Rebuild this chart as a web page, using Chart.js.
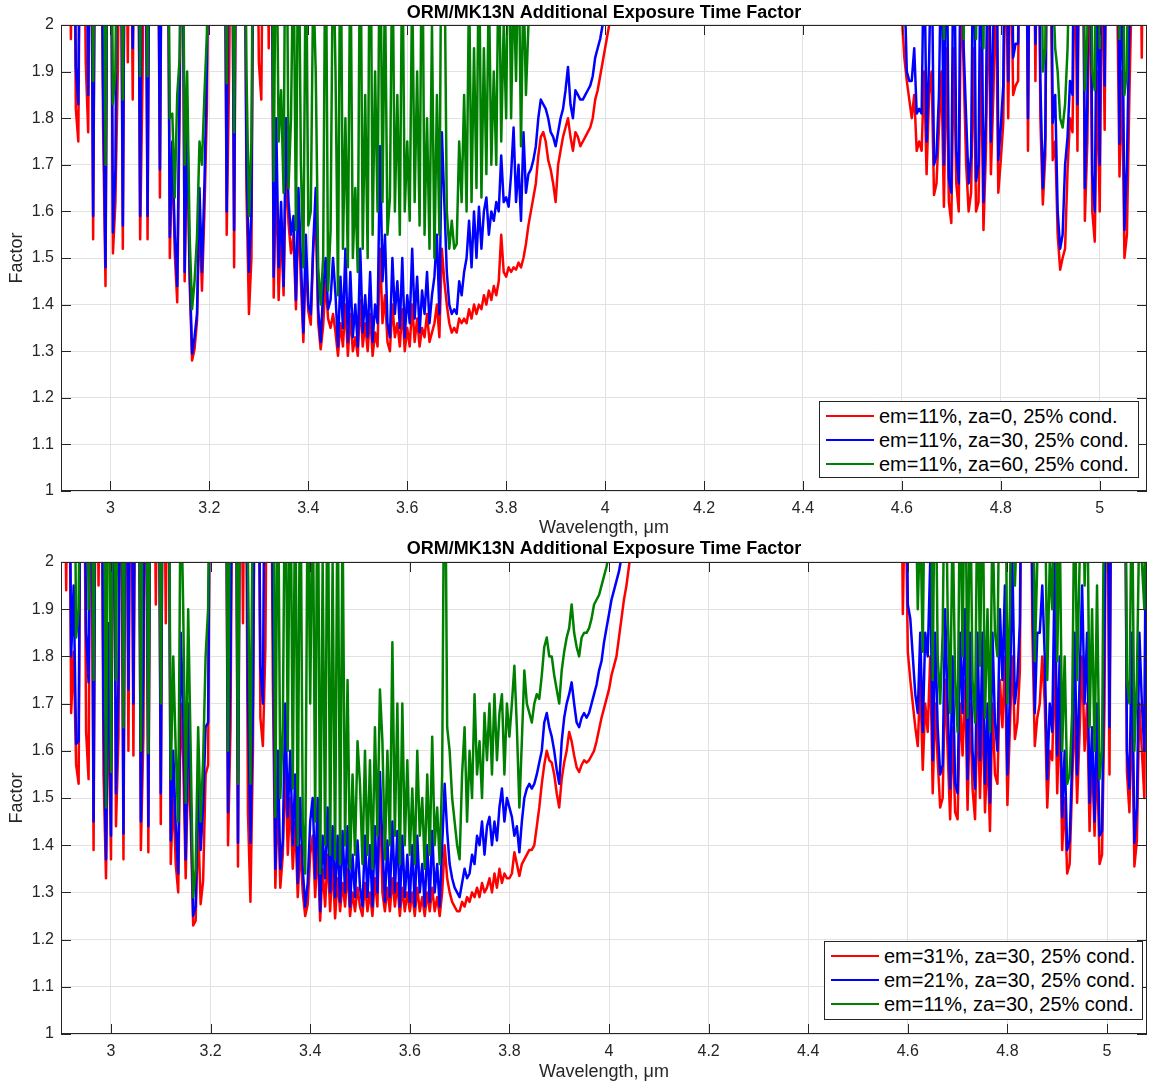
<!DOCTYPE html>
<html><head><meta charset="utf-8">
<script src="https://cdn.jsdelivr.net/npm/chart.js@4"></script>
<style>
html,body{margin:0;padding:0;background:#fff;}
body{width:1151px;height:1086px;position:relative;overflow:hidden;font-family:"Liberation Sans",Arial,Helvetica,sans-serif;}
.panel{position:absolute;left:0;width:1151px;}
.legend{position:absolute;background:#fff;border:1px solid #262626;box-sizing:border-box;font-size:20px;color:#000;}
.legend .row{position:absolute;left:0;right:0;height:24px;line-height:24px;white-space:nowrap;}
.legend .sw{position:absolute;left:6px;top:11px;height:2px;width:48px;}
.legend .tx{position:absolute;left:59px;top:0;}
</style></head><body>
<div class="panel" style="top:0;height:540px"><canvas id="c1" width="1151" height="540"></canvas></div>
<div class="panel" style="top:538px;height:548px"><canvas id="c2" width="1151" height="548"></canvas></div>
<div id="leg1" class="legend" style="left:819px;top:401px;width:320px;height:77px"></div>
<div id="leg2" class="legend" style="left:824px;top:941px;width:319px;height:79px"></div>
<script>
const chartTitle = 'ORM/MK13N Additional Exposure Time Factor';
const xTitle = 'Wavelength, \u03bcm';
const yTitle = 'Factor';
const xTicks = [3,3.2,3.4,3.6,3.8,4,4.2,4.4,4.6,4.8,5];
const xTickLabels = ['3','3.2','3.4','3.6','3.8','4','4.2','4.4','4.6','4.8','5'];
const yTicks = [1,1.1,1.2,1.3,1.4,1.5,1.6,1.7,1.8,1.9,2];
const yTickLabels = ['1','1.1','1.2','1.3','1.4','1.5','1.6','1.7','1.8','1.9','2'];
const seriesColors = ['#ff0000','#0000ff','#008000'];
const topLabels = ['em=11%, za=0, 25% cond.','em=11%, za=30, 25% cond.','em=11%, za=60, 25% cond.'];
const botLabels = ['em=31%, za=30, 25% cond.','em=21%, za=30, 25% cond.','em=11%, za=30, 25% cond.'];

// wavelength samples (micrometres)
const wavelength = [
2.905,2.91,2.915,2.92,2.925,2.93,2.935,2.94,2.945,2.95,
2.955,2.96,2.965,2.97,2.975,2.98,2.985,2.99,2.995,3.0,
3.005,3.01,3.015,3.02,3.025,3.03,3.035,3.04,3.045,3.05,
3.055,3.06,3.065,3.07,3.075,3.08,3.085,3.09,3.095,3.1,
3.105,3.11,3.115,3.12,3.125,3.13,3.135,3.14,3.145,3.15,
3.155,3.16,3.165,3.17,3.175,3.18,3.185,3.19,3.195,3.2,
3.205,3.21,3.215,3.22,3.225,3.23,3.235,3.24,3.245,3.25,
3.255,3.26,3.265,3.27,3.275,3.28,3.285,3.29,3.295,3.3,
3.305,3.31,3.315,3.32,3.325,3.33,3.335,3.34,3.345,3.35,
3.355,3.36,3.365,3.37,3.375,3.38,3.385,3.39,3.395,3.4,
3.405,3.41,3.415,3.42,3.425,3.43,3.435,3.44,3.445,3.45,
3.455,3.46,3.465,3.47,3.475,3.48,3.485,3.49,3.495,3.5,
3.505,3.51,3.515,3.52,3.525,3.53,3.535,3.54,3.545,3.55,
3.555,3.56,3.565,3.57,3.575,3.58,3.585,3.59,3.595,3.6,
3.605,3.61,3.615,3.62,3.625,3.63,3.635,3.64,3.645,3.65,
3.655,3.66,3.665,3.67,3.675,3.68,3.685,3.69,3.695,3.7,
3.705,3.71,3.715,3.72,3.725,3.73,3.735,3.74,3.745,3.75,
3.755,3.76,3.765,3.77,3.775,3.78,3.785,3.79,3.795,3.8,
3.805,3.81,3.815,3.82,3.825,3.83,3.835,3.84,3.845,3.85,
3.855,3.86,3.865,3.87,3.875,3.88,3.885,3.89,3.895,3.9,
3.905,3.91,3.915,3.92,3.925,3.93,3.935,3.94,3.945,3.95,
3.955,3.96,3.965,3.97,3.975,3.98,3.985,3.99,3.995,4.0,
4.005,4.01,4.015,4.02,4.025,4.03,4.035,4.04,4.045,4.05,
4.585,4.59,4.595,4.6,4.605,4.61,4.615,4.62,4.625,4.63,
4.635,4.64,4.645,4.65,4.655,4.66,4.665,4.67,4.675,4.68,
4.685,4.69,4.695,4.7,4.705,4.71,4.715,4.72,4.725,4.73,
4.735,4.74,4.745,4.75,4.755,4.76,4.765,4.77,4.775,4.78,
4.785,4.79,4.795,4.8,4.805,4.81,4.815,4.82,4.825,4.83,
4.835,4.84,4.845,4.85,4.855,4.86,4.865,4.87,4.875,4.88,
4.885,4.89,4.895,4.9,4.905,4.91,4.915,4.92,4.925,4.93,
4.935,4.94,4.945,4.95,4.955,4.96,4.965,4.97,4.975,4.98,
4.985,4.99,4.995,5.0,5.005,5.01,5.015,5.02,5.025,5.03,
5.035,5.04,5.045,5.05,5.055,5.06,5.065,5.07,5.075,5.08,
5.085,5.09,5.095];

// ---- top panel: em=11%, za=0 / 30 / 60 ----
const topRed = [
2.5,2.5,2.5,1.97,2.5,1.82,1.75,2.5,2.5,1.92,
1.77,2.5,1.54,2.5,2.5,2.5,1.79,1.44,2.5,2.5,
1.51,1.62,1.91,2.5,1.52,2.5,1.92,2.5,1.84,2.5,
2.5,1.54,1.9,2.5,1.54,2.5,2.5,2.5,2.5,1.63,
2.5,2.5,2.5,1.5,1.73,1.51,1.405,1.83,2.5,1.45,
1.78,1.45,1.28,1.305,1.365,1.6,1.43,1.6,1.82,2.5,
2.5,2.5,2.5,2.5,2.5,2.5,1.55,1.9,2.5,1.48,
2.5,2.5,2.5,2.5,1.64,1.38,1.5,2.5,2.5,1.92,
1.84,2.5,2.5,1.95,2.5,1.415,1.7,1.41,1.575,1.42,
1.7,1.575,1.51,1.55,1.39,1.6,1.45,1.32,1.5,1.386,
1.357,1.52,1.6,1.36,1.304,1.354,1.45,1.37,1.35,1.38,
1.34,1.29,1.36,1.31,1.40,1.29,1.38,1.30,1.33,1.29,
1.41,1.31,1.36,1.30,1.38,1.29,1.34,1.31,1.52,1.36,
1.42,1.32,1.30,1.40,1.33,1.36,1.31,1.39,1.30,1.35,
1.31,1.40,1.32,1.37,1.31,1.35,1.33,1.38,1.32,1.34,
1.36,1.40,1.33,1.52,1.45,1.40,1.36,1.34,1.35,1.34,
1.37,1.36,1.37,1.36,1.39,1.37,1.40,1.38,1.40,1.39,
1.42,1.40,1.43,1.41,1.44,1.42,1.45,1.55,1.47,1.46,
1.48,1.47,1.48,1.475,1.49,1.48,1.50,1.53,1.57,1.60,
1.63,1.66,1.72,1.76,1.77,1.75,1.71,1.69,1.66,1.62,
1.70,1.73,1.76,1.78,1.80,1.76,1.73,1.77,1.76,1.74,
1.75,1.76,1.77,1.78,1.80,1.84,1.86,1.89,1.92,1.95,
1.98,2.01,2.05,2.1,2.15,2.2,2.3,2.4,2.5,2.5,
2.5,2.5,2.5,2.02,1.93,1.88,1.84,1.80,1.85,1.73,
1.75,1.73,1.9,1.68,1.85,1.9,1.635,1.66,1.78,1.9,
1.61,1.95,1.62,1.575,1.95,1.66,1.60,2.1,1.9,1.7,
1.60,1.64,1.95,1.60,1.62,1.95,1.56,1.73,2.1,1.68,
1.85,2.1,1.64,1.71,1.79,2.2,1.80,2.2,1.85,1.87,
1.88,2.5,2.5,2.5,1.73,2.5,2.5,1.88,2.5,1.8,
1.615,1.72,2.5,2.2,1.71,1.75,1.55,1.475,1.50,1.52,
1.69,1.80,1.77,2.2,1.73,2.5,2.5,1.58,1.75,2.2,
1.6,1.535,1.9,1.60,2.2,1.775,2.5,2.5,2.5,2.5,
2.1,1.675,1.9,1.50,1.55,1.85,2.1,2.5,2.5,2.5,
1.93,2.5,2.5];

const topBlue = [
2.5,2.5,2.5,2.5,2.5,1.91,1.83,2.5,2.5,2.5,
1.85,2.5,1.59,2.5,2.5,2.5,1.87,1.48,2.5,2.5,
1.555,1.69,2.5,2.5,1.57,2.5,2.5,2.5,1.95,2.5,
2.5,1.59,2.5,2.5,1.59,2.5,2.5,2.5,2.5,1.69,
2.5,2.5,2.5,1.545,1.75,1.55,1.44,1.9,2.5,1.47,
1.82,1.48,1.295,1.33,1.38,1.65,1.47,1.66,1.91,2.5,
2.5,2.5,2.5,2.5,2.5,2.5,1.6,2.5,2.5,1.56,
2.5,2.5,2.5,2.5,1.71,1.47,1.6,2.5,2.5,2.5,
2.5,2.5,2.5,2.5,2.5,1.46,1.8,1.48,1.62,1.44,
1.8,1.62,1.55,1.59,1.41,1.65,1.5,1.34,1.55,1.4,
1.38,1.53,1.65,1.39,1.32,1.43,1.5,1.39,1.41,1.50,
1.42,1.31,1.46,1.35,1.52,1.32,1.47,1.33,1.40,1.31,
1.52,1.34,1.42,1.33,1.47,1.32,1.40,1.36,1.74,1.45,
1.55,1.36,1.33,1.50,1.38,1.45,1.35,1.50,1.33,1.42,
1.36,1.52,1.37,1.46,1.34,1.43,1.38,1.47,1.36,1.42,
1.46,1.55,1.38,1.77,1.62,1.47,1.40,1.38,1.39,1.38,
1.45,1.42,1.47,1.50,1.58,1.48,1.60,1.50,1.61,1.52,
1.60,1.63,1.55,1.60,1.58,1.62,1.60,1.72,1.62,1.63,
1.61,1.68,1.78,1.62,1.70,1.58,1.77,1.64,1.68,1.69,
1.71,1.74,1.80,1.84,1.83,1.82,1.80,1.77,1.76,1.74,
1.77,1.80,1.82,1.86,1.91,1.83,1.80,1.86,1.85,1.84,
1.84,1.85,1.86,1.87,1.89,1.93,1.95,1.97,2.0,2.04,
2.08,2.12,2.18,2.25,2.35,2.45,2.5,2.5,2.5,2.5,
2.5,2.5,2.5,2.5,2.1,1.90,1.88,1.88,1.95,1.81,
1.82,1.81,2.2,1.75,1.92,2.2,1.70,1.72,1.85,2.2,
1.70,2.3,1.67,1.64,2.3,1.73,1.66,2.4,1.95,1.8,
1.66,1.72,2.3,1.665,1.70,2.3,1.62,1.81,2.4,1.75,
2.0,2.5,1.71,1.78,1.87,2.5,1.88,2.5,1.93,1.96,
1.96,2.5,2.5,2.5,1.80,2.5,2.5,1.96,2.5,1.88,
1.65,1.76,2.5,2.5,1.79,1.85,1.60,1.52,1.55,1.70,
1.76,1.88,1.85,2.5,1.83,2.5,2.5,1.65,1.84,2.5,
1.68,1.60,2.2,1.70,2.5,1.87,2.5,2.5,2.5,2.5,
2.5,1.745,2.2,1.56,1.70,2.0,2.5,2.5,2.5,2.5,
2.05,2.5,2.5];

const topGreen = [
2.5,2.5,2.5,2.5,2.5,2.5,2.5,2.5,2.5,2.5,
2.5,2.5,1.88,2.5,2.5,2.5,2.5,1.70,2.5,2.5,
1.83,1.9,2.5,2.5,1.84,2.5,2.5,2.5,2.5,2.5,
2.5,1.89,2.5,2.5,1.89,2.5,2.5,2.5,2.5,2.5,
2.5,2.5,2.5,1.8,1.81,1.63,1.85,1.93,2.5,1.70,
1.9,1.55,1.39,1.45,1.545,1.75,1.70,1.85,1.98,2.5,
2.5,2.5,2.5,2.5,2.5,2.5,1.875,2.5,2.5,1.77,
2.5,2.5,2.5,2.5,1.9,1.59,1.75,2.5,2.5,2.5,
2.5,2.5,2.5,2.5,2.5,1.665,2.3,1.75,1.86,1.64,
2.5,1.65,1.8,2.2,1.56,2.3,1.7,1.48,2.2,1.57,
1.6,2.1,1.9,1.48,1.4,1.5,2.3,1.43,1.56,2.2,
1.9,1.42,2.3,1.52,1.80,1.48,2.2,1.50,1.65,1.47,
2.3,1.52,1.85,1.50,2.4,1.55,1.90,1.6,2.3,1.62,
2.1,1.55,1.63,2.2,1.60,1.85,1.55,2.2,1.60,1.75,
1.58,2.1,1.62,1.90,1.57,2.3,1.55,1.80,1.52,2.0,
1.50,1.85,1.55,2.4,2.2,1.60,1.52,1.58,1.52,1.53,
1.75,1.62,1.85,1.60,2.1,1.62,1.95,1.65,2.2,1.63,
1.95,1.68,2.1,1.70,1.90,1.70,2.2,1.75,2.0,1.80,
2.3,1.80,2.1,1.88,2.2,1.74,2.1,1.85,2.0,2.3,
2.5,2.05,2.5,2.5,2.5,2.5,2.5,2.5,2.5,2.5,
2.5,2.5,2.5,2.5,2.5,2.5,2.5,2.5,2.5,2.5,
2.5,2.5,2.5,2.5,2.5,2.5,2.5,2.5,2.5,2.5,
2.5,2.5,2.5,2.5,2.5,2.5,2.5,2.5,2.5,2.5,
2.5,2.5,2.5,2.5,2.5,2.5,2.5,2.5,2.5,2.5,
2.5,2.5,2.5,2.5,2.5,2.5,2.5,2.5,2.5,2.5,
1.97,2.5,2.5,2.5,2.5,2.5,2.5,2.5,1.97,2.5,
2.5,2.5,2.5,1.97,2.5,2.5,1.95,2.5,2.5,2.5,
2.5,2.5,2.5,2.5,2.5,2.5,2.5,2.5,2.5,2.5,
2.5,2.5,2.5,2.5,2.5,2.5,2.5,2.5,2.5,2.5,
1.9,1.95,2.5,2.5,2.1,1.95,1.90,1.80,1.78,1.83,
1.95,2.2,2.5,2.5,2.5,2.5,2.5,1.86,1.98,2.5,
1.9,1.86,2.5,1.95,2.5,2.5,2.5,2.5,2.5,2.5,
2.5,1.97,2.5,1.85,1.9,2.5,2.5,2.5,2.5,2.5,
2.5,2.5,2.5];

// ---- bottom panel: em=31% / 21% / 11%, za=30 ----
const botRed = [
2.5,1.94,2.5,1.68,1.81,1.57,1.53,2.5,2.5,1.64,
1.54,2.5,1.39,2.5,1.95,2.5,1.55,1.33,1.75,1.37,
2.5,1.44,1.63,2.5,1.37,2.5,1.60,2.5,1.59,2.5,
2.5,1.39,1.63,2.5,1.385,2.5,2.5,1.91,2.5,1.445,
2.5,1.87,2.5,1.36,1.51,1.36,1.30,1.7,1.58,1.33,
1.58,1.45,1.23,1.24,1.45,1.275,1.325,1.55,1.57,2.5,
2.5,2.5,2.5,2.5,2.5,2.5,1.40,1.65,2.5,2.5,
1.355,2.5,1.87,2.5,1.47,1.28,1.6,2.5,2.5,1.67,
1.61,1.82,2.5,2.5,1.75,1.31,1.5,1.31,1.38,1.58,
1.38,1.5,1.35,1.45,1.29,1.40,1.30,1.25,1.275,1.38,
1.42,1.29,1.40,1.24,1.35,1.27,1.38,1.26,1.36,1.245,
1.33,1.26,1.32,1.27,1.35,1.25,1.30,1.26,1.31,1.27,
1.25,1.32,1.26,1.30,1.25,1.33,1.27,1.52,1.30,1.26,
1.31,1.26,1.33,1.27,1.32,1.25,1.31,1.26,1.30,1.26,
1.30,1.25,1.31,1.26,1.29,1.25,1.30,1.26,1.31,1.26,
1.29,1.25,1.30,1.40,1.33,1.30,1.28,1.27,1.26,1.26,
1.28,1.27,1.29,1.28,1.30,1.29,1.31,1.29,1.32,1.30,
1.31,1.33,1.30,1.34,1.31,1.35,1.32,1.34,1.33,1.33,
1.34,1.385,1.36,1.335,1.36,1.37,1.38,1.39,1.39,1.40,
1.44,1.48,1.53,1.57,1.60,1.58,1.575,1.55,1.51,1.48,
1.54,1.575,1.60,1.64,1.62,1.59,1.565,1.555,1.57,1.58,
1.575,1.58,1.59,1.60,1.62,1.645,1.67,1.69,1.71,1.73,
1.76,1.78,1.80,1.84,1.88,1.92,1.95,1.99,2.03,2.08,
2.5,1.89,2.2,1.81,1.75,1.70,1.65,1.61,1.75,1.56,
1.70,1.64,1.8,1.51,1.7,1.58,1.48,1.50,1.75,1.6,
1.455,1.65,1.47,1.455,1.7,1.59,1.75,1.475,1.7,1.52,
1.455,1.7,1.50,1.7,1.47,1.6,1.43,1.7,1.55,1.53,
1.75,1.65,1.8,1.485,1.65,1.8,1.625,1.66,1.77,2.5,
2.5,2.5,2.5,1.86,1.61,1.67,1.70,1.8,1.7,1.48,
1.6,1.58,1.8,1.51,1.7,1.39,1.5,1.34,1.36,1.53,
1.7,1.49,1.64,1.8,1.6,1.7,1.43,1.6,1.42,1.6,
1.36,1.38,1.7,2.5,1.55,2.5,2.5,2.5,2.5,2.5,
2.5,1.555,1.47,1.7,1.355,1.41,1.7,1.6,1.5,2.5,
2.5,2.5,2.5];

const botBlue = [
2.5,2.5,2.5,1.80,1.95,1.615,1.62,2.5,2.5,1.85,
1.745,2.5,1.45,2.5,2.5,2.5,1.675,1.37,1.87,1.42,
2.5,1.51,1.75,2.5,1.425,2.5,1.73,2.5,1.70,2.5,
2.5,1.45,1.8,2.5,1.44,2.5,2.5,2.5,2.5,1.51,
2.5,2.5,2.5,1.41,1.6,1.44,1.34,1.85,1.68,1.37,
1.7,1.5,1.25,1.27,1.55,1.39,1.48,1.65,1.66,2.5,
2.5,2.5,2.5,2.5,2.5,2.5,1.47,1.8,2.5,2.5,
1.405,2.5,2.5,2.5,1.71,1.405,1.7,2.5,2.5,1.78,
1.7,2.5,2.5,2.5,1.9,1.35,1.6,1.35,1.41,1.7,
1.46,1.6,1.40,1.55,1.32,1.50,1.35,1.27,1.32,1.45,
1.5,1.33,1.5,1.26,1.42,1.33,1.48,1.30,1.44,1.29,
1.42,1.28,1.43,1.30,1.44,1.27,1.38,1.29,1.41,1.31,
1.27,1.42,1.29,1.40,1.27,1.44,1.30,1.555,1.40,1.28,
1.41,1.29,1.45,1.30,1.43,1.27,1.42,1.29,1.38,1.28,
1.40,1.27,1.42,1.30,1.36,1.27,1.40,1.28,1.43,1.30,
1.36,1.27,1.40,1.53,1.43,1.36,1.33,1.31,1.30,1.29,
1.32,1.35,1.33,1.34,1.38,1.36,1.42,1.40,1.45,1.38,
1.44,1.46,1.40,1.45,1.41,1.48,1.52,1.45,1.50,1.48,
1.46,1.42,1.44,1.385,1.45,1.50,1.52,1.53,1.52,1.53,
1.55,1.575,1.60,1.66,1.68,1.65,1.63,1.60,1.56,1.53,
1.62,1.67,1.70,1.72,1.745,1.70,1.66,1.65,1.67,1.68,
1.67,1.68,1.70,1.72,1.74,1.77,1.79,1.83,1.86,1.89,
1.92,1.94,1.96,1.98,2.01,2.05,2.1,2.15,2.2,2.3,
2.5,2.5,2.5,1.91,1.88,1.80,1.72,1.68,1.85,1.64,
1.85,1.80,2.0,1.58,1.85,1.65,1.55,1.57,1.9,1.7,
1.52,1.8,1.53,1.51,1.85,1.68,1.9,1.54,1.85,1.6,
1.52,1.85,1.58,1.85,1.53,1.7,1.49,1.85,1.66,1.6,
1.9,1.75,1.95,1.55,1.72,2.0,1.70,1.75,1.87,2.5,
2.5,2.5,2.5,1.95,1.68,1.85,1.85,1.95,1.8,1.54,
1.7,1.64,2.0,1.59,1.8,1.46,1.6,1.39,1.41,1.58,
1.85,1.55,1.75,1.95,1.7,1.85,1.49,1.65,1.45,1.7,
1.42,1.43,1.85,2.5,1.65,2.5,2.5,2.5,2.5,2.5,
2.5,1.60,1.52,1.85,1.405,1.48,1.85,1.7,1.6,2.5,
2.5,2.5,2.5];

const botGreen = [
2.5,2.5,2.5,2.5,2.5,1.84,1.9,2.5,2.5,2.5,
1.9,2.5,1.75,2.5,2.5,2.5,2.5,1.48,2.5,1.555,
2.5,1.75,2.5,2.5,1.65,2.5,2.5,2.5,2.5,2.5,
2.5,1.6,2.5,2.5,1.595,2.5,2.5,2.5,2.5,1.70,
2.5,2.5,2.5,1.54,1.8,1.6,1.45,2.2,1.9,1.49,
1.9,1.6,1.29,1.35,1.65,1.45,1.58,1.8,1.9,2.5,
2.5,2.5,2.5,2.5,2.5,2.5,1.60,2.3,2.5,2.5,
1.53,2.5,2.5,2.5,2.0,1.53,2.2,2.5,2.5,2.5,
2.5,2.5,2.5,2.5,2.5,1.46,2.3,1.50,1.65,2.3,
1.6,2.3,1.52,2.2,1.40,2.3,1.45,1.34,2.2,1.7,
2.2,1.45,2.3,1.34,2.0,1.40,2.3,1.38,2.0,1.37,
2.2,1.36,2.1,1.40,1.75,1.35,1.55,1.38,1.62,1.53,
1.36,1.60,1.38,1.58,1.35,1.65,1.42,1.73,1.62,1.37,
1.60,1.40,1.83,1.42,1.70,1.36,1.70,1.40,1.58,1.38,
1.52,1.36,1.60,1.42,1.50,1.35,1.55,1.38,1.63,1.40,
1.48,1.36,1.55,2.4,1.65,1.60,1.50,1.45,1.40,1.37,
1.55,1.65,1.45,1.60,1.50,1.72,1.55,1.62,1.50,1.68,
1.58,1.70,1.55,1.72,1.58,1.68,1.72,1.55,1.70,1.63,
1.70,1.78,1.65,1.48,1.62,1.77,1.70,1.68,1.66,1.70,
1.72,1.71,1.76,1.82,1.84,1.80,1.80,1.76,1.73,1.70,
1.77,1.81,1.84,1.86,1.91,1.85,1.82,1.80,1.84,1.85,
1.85,1.86,1.88,1.91,1.92,1.93,1.95,1.97,1.99,2.02,
2.06,2.1,2.15,2.2,2.3,2.4,2.5,2.5,2.5,2.5,
2.5,2.5,2.5,2.5,2.5,2.5,2.2,1.9,2.1,1.81,
2.3,2.0,2.4,1.75,2.3,1.80,1.70,1.85,2.3,1.9,
1.68,2.1,1.75,1.64,2.2,1.80,2.3,1.67,2.2,1.75,
1.66,2.2,1.78,2.2,1.67,1.9,1.64,2.1,1.85,1.8,
2.3,2.0,2.4,1.70,1.9,2.4,1.95,2.1,2.3,2.5,
2.5,2.5,2.5,2.5,1.79,2.0,2.1,2.4,2.2,1.75,
2.0,1.9,2.4,1.79,2.1,1.60,1.8,1.53,1.55,1.68,
2.2,1.75,2.0,2.4,1.95,2.2,1.65,1.9,1.6,1.95,
1.54,1.60,2.3,2.5,2.0,2.5,2.5,2.5,2.5,2.5,
2.5,1.75,1.70,2.2,1.6,1.75,2.1,2.0,1.9,2.5,
2.5,2.5,2.5];

const FONT = '"Liberation Sans", Arial, Helvetica, sans-serif';
Chart.defaults.font.family = FONT;

const boxPlugin = {
  id: 'axesBox',
  afterDraw(chart) {
    const {ctx, chartArea: a, scales: {x, y}} = chart;
    ctx.save();
    ctx.strokeStyle = '#262626';
    ctx.lineWidth = 1;
    ctx.beginPath();
    xTicks.forEach(v => {
      const px = Math.round(x.getPixelForValue(v)) + 0.5;
      ctx.moveTo(px, a.bottom); ctx.lineTo(px, a.bottom - 10);
      ctx.moveTo(px, a.top); ctx.lineTo(px, a.top + 10);
    });
    yTicks.forEach(v => {
      const py = Math.round(y.getPixelForValue(v)) + 0.5;
      ctx.moveTo(a.left, py); ctx.lineTo(a.left + 10, py);
      ctx.moveTo(a.right, py); ctx.lineTo(a.right - 10, py);
    });
    ctx.stroke();
    ctx.strokeRect(Math.round(a.left) + 0.5, Math.round(a.top) + 0.5,
                   Math.round(a.right - a.left) - 1, Math.round(a.bottom - a.top) - 1);
    ctx.restore();
  }
};

function series(label, vals, color, order) {
  return {
    label, order,
    data: wavelength.map((w, i) => ({x: w, y: vals[i]})),
    borderColor: color, backgroundColor: color,
    borderWidth: 2.5, pointRadius: 0, pointHoverRadius: 0,
    tension: 0, fill: false, borderJoinStyle: 'round'
  };
}

function makeChart(id, labels, vals, opt) {
  return new Chart(document.getElementById(id), {
    type: 'line',
    data: { datasets: [
      series(labels[0], vals[0], seriesColors[0], 3),
      series(labels[1], vals[1], seriesColors[1], 2),
      series(labels[2], vals[2], seriesColors[2], 1)
    ]},
    plugins: [boxPlugin],
    options: {
      responsive: false, animation: false, devicePixelRatio: 1,
      layout: { padding: { left: 0, right: 4, top: 0, bottom: 0 } },
      plugins: {
        legend: { display: false },
        tooltip: { enabled: false },
        title: { display: true, fullSize: false, text: chartTitle, color: '#000',
                 font: { family: FONT, size: 18, weight: 'bold' },
                 padding: opt.titlePad }
      },
      scales: {
        x: {
          type: 'linear', min: opt.xMin, max: opt.xMax,
          afterFit(s) { s.height = opt.xAxisH; },
          afterBuildTicks(s) { s.ticks = xTicks.map(v => ({value: v})); },
          ticks: { autoSkip: false, maxRotation: 0, minRotation: 0, padding: 8, color: '#262626',
                   font: { family: FONT, size: 16 },
                   callback: (v) => xTickLabels[xTicks.indexOf(v)] },
          grid: { color: '#e2e2e2', lineWidth: 1, drawTicks: false },
          border: { display: false },
          title: { display: true, text: xTitle, color: '#262626',
                   font: { family: FONT, size: 18 }, padding: { top: 0, bottom: opt.xTitleBottom } }
        },
        y: {
          type: 'linear', min: 1, max: 2,
          afterFit(s) { s.width = 61; },
          afterBuildTicks(s) { s.ticks = yTicks.map(v => ({value: v})); },
          ticks: { padding: 7, color: '#262626', font: { family: FONT, size: 16 },
                   callback: (v) => yTickLabels[yTicks.indexOf(v)] },
          grid: { color: '#e2e2e2', lineWidth: 1, drawTicks: false },
          border: { display: false },
          title: { display: true, text: yTitle, color: '#262626',
                   font: { family: FONT, size: 18 }, padding: { top: 6, bottom: 0 } }
        }
      }
    }
  });
}

makeChart('c1', topLabels, [topRed, topBlue, topGreen],
  { xMin: 2.9, xMax: 5.0956, xAxisH: 49, xTitleBottom: 1.2, titlePad: { top: 2, bottom: 1.4 } });
makeChart('c2', botLabels, [botRed, botBlue, botGreen],
  { xMin: 2.8996, xMax: 5.0803, xAxisH: 52, xTitleBottom: 3.2, titlePad: { top: 0, bottom: 2.4 } });

function buildLegend(id, labels) {
  const box = document.getElementById(id);
  const tops = [2, 26, 50];
  labels.forEach((t, i) => {
    const row = document.createElement('div');
    row.className = 'row';
    row.style.top = tops[i] + 'px';
    const sw = document.createElement('div');
    sw.className = 'sw';
    sw.style.background = seriesColors[i];
    const tx = document.createElement('span');
    tx.className = 'tx';
    tx.textContent = t;
    row.appendChild(sw); row.appendChild(tx);
    box.appendChild(row);
  });
}
buildLegend('leg1', topLabels);
buildLegend('leg2', botLabels);
</script>
</body></html>
